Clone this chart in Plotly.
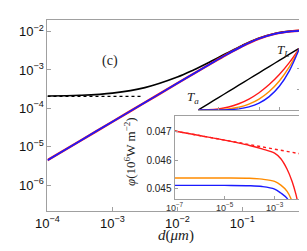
import plotly.graph_objects as go

# ---------------- data ----------------
# main panel: log10(d) sample points
main_logd = [-4, -3.5, -3, -2.5, -2, -1.75, -1.5, -1.25, -1, -0.75, -0.5, -0.25, 0]
blue_main = [4.5e-6, 1.42e-5, 4.5e-5, 1.42e-4, 4.49e-4, 7.98e-4, 1.41e-3, 2.47e-3,
             4.17e-3, 6.47e-3, 8.70e-3, 1.009e-2, 1.069e-2]
red_main = [4.5e-6, 1.42e-5, 4.5e-5, 1.42e-4, 4.49e-4, 7.98e-4, 1.41e-3, 2.47e-3,
            4.17e-3, 6.47e-3, 8.70e-3, 1.009e-2, 1.069e-2]
black_main = [2.095e-4, 2.19e-4, 2.5e-4, 3.47e-4, 6.54e-4, 1.0e-3, 1.61e-3, 2.67e-3,
              4.37e-3, 6.67e-3, 8.90e-3, 1.025e-2, 1.08e-2]
dotted_logd = [-4, -2.55]
dotted_main = [2.05e-4, 2.05e-4]

main_xticks = [1e-4, 1e-3, 1e-2, 1e-1, 1]
main_xtext = ["10<sup>−4</sup>", "10<sup>−3</sup>", "10<sup>−2</sup>", "10<sup>−1</sup>", "1"]
main_yticks = [1e-6, 1e-5, 1e-4, 1e-3, 1e-2]
main_ytext = ["10<sup>−6</sup>", "10<sup>−5</sup>", "10<sup>−4</sup>", "10<sup>−3</sup>", "10<sup>−2</sup>"]

# schematic inset (temperature profiles)
sch_t = [0, 0.1, 0.2, 0.3, 0.4, 0.5, 0.6, 0.7, 0.8, 0.9, 1.0]
sch_black = [0, 0.1, 0.2, 0.3, 0.4, 0.5, 0.6, 0.7, 0.8, 0.9, 1.0]
sch_red = [0, 0.003, 0.018, 0.049, 0.101, 0.177, 0.279, 0.410, 0.572, 0.768, 1]
sch_orange = [0, 0.0004, 0.004, 0.017, 0.044, 0.095, 0.176, 0.298, 0.468, 0.699, 1]
sch_blue = [0, 0.00005, 0.001, 0.006, 0.019, 0.051, 0.111, 0.216, 0.383, 0.636, 1]

# flux inset: log10(d)
ins_logd_red = [-7, -6, -5, -4.5, -4, -3.5, -3, -2.75, -2.5, -2.3, -2.15, -2.05]
ins_red = [0.04703, 0.04687, 0.04671, 0.04662, 0.04652, 0.04640, 0.04625, 0.04605,
           0.04568, 0.04525, 0.04480, 0.04440]
ins_logd_dot = [-7, -2]
ins_red_dot = [0.04703, 0.04623]
ins_logd_orange = [-7, -5, -4, -3.5, -3, -2.75, -2.5, -2.3]
ins_orange = [0.04537, 0.04537, 0.04536, 0.04533, 0.04525, 0.04512, 0.04490, 0.04455]
ins_logd_blue = [-7, -5, -4, -3.5, -3, -2.75, -2.5, -2.4]
ins_blue = [0.04511, 0.04511, 0.04510, 0.04507, 0.04498, 0.04484, 0.04465, 0.04445]

ins_xticks = [1e-7, 1e-5, 1e-3]
ins_xtext = ["10<sup>−7</sup>", "10<sup>−5</sup>", "10<sup>−3</sup>"]
ins_yticks = [0.045, 0.046, 0.047]
ins_ytext = ["0.045", "0.046", "0.047"]

# ---------------- figure ----------------
W, H = 307, 251
def px(x):
    return x / W
def py(y):
    return 1 - y / H

RED = "#ff1a1a"
ORANGE = "#ff8c00"
BLUE = "#1a1aff"
FRAME = "#a0a0a0"
SERIF = "Liberation Serif, DejaVu Serif, serif"
SANS = "Liberation Sans, Arial, sans-serif"

fig = go.Figure()

# main panel
fig.add_trace(go.Scatter(x=[10**v for v in dotted_logd], y=dotted_main, mode="lines",
                         line=dict(color="black", width=1.4, dash="dot"),
                         xaxis="x", yaxis="y", showlegend=False))
fig.add_trace(go.Scatter(x=[10**v for v in main_logd], y=black_main, mode="lines",
                         line=dict(color="black", width=1.6, shape="spline"),
                         xaxis="x", yaxis="y", showlegend=False))
fig.add_trace(go.Scatter(x=[10**v for v in main_logd], y=red_main, mode="lines",
                         line=dict(color=RED, width=2.4, shape="spline"),
                         xaxis="x", yaxis="y", showlegend=False))
fig.add_trace(go.Scatter(x=[10**v for v in main_logd], y=blue_main, mode="lines",
                         line=dict(color=BLUE, width=1.7, shape="spline"),
                         xaxis="x", yaxis="y", showlegend=False))

# schematic inset
for ys, col in [(sch_black, "black"), (sch_red, RED), (sch_orange, ORANGE), (sch_blue, BLUE)]:
    fig.add_trace(go.Scatter(x=sch_t, y=ys, mode="lines",
                             line=dict(color=col, width=1.4, shape="spline"),
                             xaxis="x3", yaxis="y3", showlegend=False))

# flux inset
fig.add_trace(go.Scatter(x=[10**v for v in ins_logd_dot], y=ins_red_dot, mode="lines",
                         line=dict(color=RED, width=1.4, dash="dot"),
                         xaxis="x2", yaxis="y2", showlegend=False))
fig.add_trace(go.Scatter(x=[10**v for v in ins_logd_red], y=ins_red, mode="lines",
                         line=dict(color=RED, width=1.4, shape="spline"),
                         xaxis="x2", yaxis="y2", showlegend=False))
fig.add_trace(go.Scatter(x=[10**v for v in ins_logd_orange], y=ins_orange, mode="lines",
                         line=dict(color=ORANGE, width=1.4, shape="spline"),
                         xaxis="x2", yaxis="y2", showlegend=False))
fig.add_trace(go.Scatter(x=[10**v for v in ins_logd_blue], y=ins_blue, mode="lines",
                         line=dict(color=BLUE, width=1.4, shape="spline"),
                         xaxis="x2", yaxis="y2", showlegend=False))

axis_common = dict(showgrid=False, zeroline=False, showline=True, linecolor=FRAME,
                   linewidth=1, ticks="inside", tickcolor=FRAME)

fig.update_layout(
    width=W, height=H,
    margin=dict(l=0, r=0, t=0, b=0),
    paper_bgcolor="white", plot_bgcolor="rgba(0,0,0,0)",
    xaxis=dict(type="log", range=[-4, 0], domain=[px(29), px(303)], anchor="y",
               mirror=True, ticklen=4, tickvals=main_xticks, ticktext=main_xtext,
               tickfont=dict(family=SANS, size=13, color="#111"), **axis_common),
    yaxis=dict(type="log", range=[-6.67, -1.70], domain=[py(203), py(12)], anchor="x",
               mirror=True, ticklen=4, tickvals=main_yticks, ticktext=main_ytext,
               tickfont=dict(family=SANS, size=13, color="#111"), **axis_common),
    xaxis2=dict(type="log", range=[-7, -2], domain=[px(163), px(295)], anchor="y2",
                mirror=True, ticklen=3, tickvals=ins_xticks, ticktext=ins_xtext,
                tickfont=dict(family=SANS, size=9, color="#333"), **axis_common),
    yaxis2=dict(range=[0.04463, 0.04756], domain=[py(191), py(108)], anchor="x2",
                mirror=True, ticklen=3, tickvals=ins_yticks, ticktext=ins_ytext,
                tickfont=dict(family=SANS, size=10, color="#222"), **axis_common),
    xaxis3=dict(range=[0, 1], domain=[px(188), px(295)], anchor="y3",
                ticklen=3, tickvals=[0.2, 0.4, 0.6, 0.8], showticklabels=False,
                **axis_common),
    yaxis3=dict(range=[0, 1], domain=[py(102), py(40)], anchor="x3", side="right",
                ticklen=3, tickvals=[0.33, 0.67], showticklabels=False,
                **axis_common),
    annotations=[
        dict(text="(c)", x=px(84), y=py(43), xref="paper", yref="paper",
             showarrow=False, font=dict(family=SERIF, size=14, color="#222")),
        dict(text="<i>d</i>(<i>μm</i>)", x=px(165), y=py(238), xref="paper", yref="paper",
             showarrow=False, font=dict(family=SERIF, size=15, color="#222")),
        dict(text="<i>T</i><sub><i>a</i></sub>", x=px(183), y=py(89), xref="paper", yref="paper",
             showarrow=False, font=dict(family=SERIF, size=13, color="#222")),
        dict(text="<i>T</i><sub><i>L</i></sub>", x=px(286), y=py(32), xref="paper", yref="paper",
             showarrow=False, font=dict(family=SERIF, size=13, color="#222")),
        dict(text="<i>φ</i>(10<sup>6</sup>W m<sup>−2</sup>)", x=px(116), y=py(143),
             xref="paper", yref="paper", textangle=-90,
             showarrow=False, font=dict(family=SERIF, size=13, color="#222")),
    ],
)

fig.write_html("out.html")
